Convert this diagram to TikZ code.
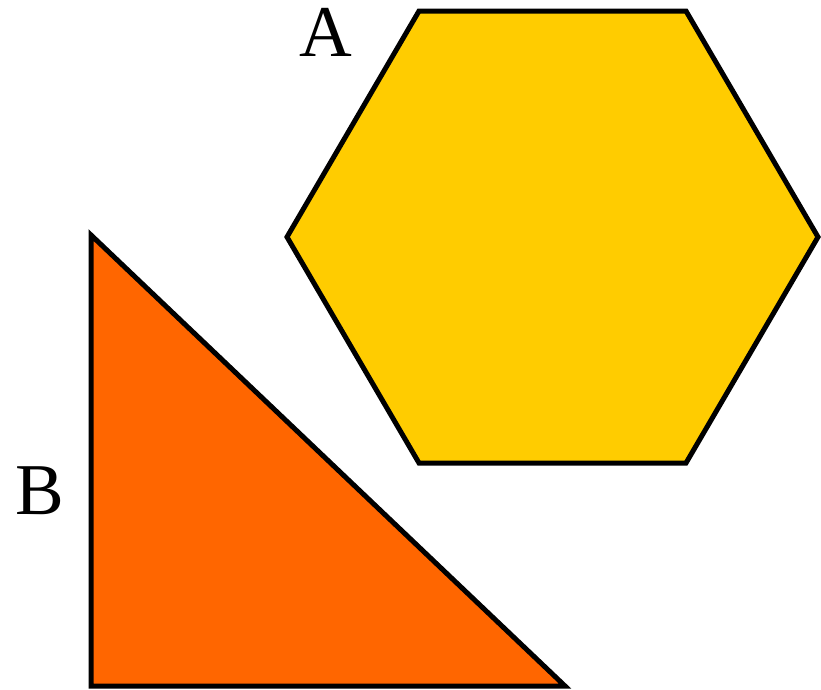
\documentclass[tikz,border=0pt]{standalone}
\usepackage{fontspec}
\setmainfont{Liberation Serif}
\definecolor{hexfill}{HTML}{FFCC00}
\definecolor{trifill}{HTML}{FF6600}
\begin{document}
\begin{tikzpicture}[x=1pt,y=-1pt,
  shapeline/.style={draw=black,line width=5pt,line join=miter},
  lbl/.style={font=\fontsize{73}{73}\selectfont,inner sep=0pt}]
\useasboundingbox (0,0) rectangle (821,689);
\filldraw[shapeline,fill=hexfill] (419,11) -- (686,11) -- (818,237) -- (686,463) -- (419,463) -- (287,237) -- cycle;
\filldraw[shapeline,fill=trifill] (91,235) -- (91,686) -- (565,686) -- cycle;
\node[lbl] (labelA) at (326,32) {A};
\node[lbl] (labelB) at (40,491) {B};
\end{tikzpicture}
\end{document}
